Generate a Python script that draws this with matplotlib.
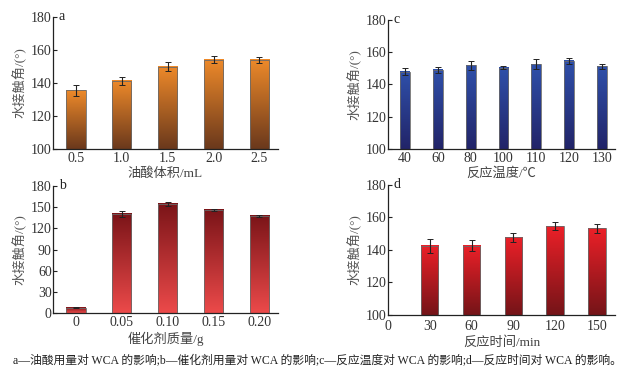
import matplotlib
matplotlib.use("Agg")
import matplotlib.pyplot as plt
import numpy as np
from matplotlib.colors import LinearSegmentedColormap

plt.rcParams['font.family'] = ['Liberation Serif', 'Noto Sans CJK SC']
plt.rcParams['axes.unicode_minus'] = False

# ---- data ----
a_cats = ["0.5", "1.0", "1.5", "2.0", "2.5"]
a_vals = [135.5, 141.3, 149.8, 154.2, 154.0]
a_err = [3.2, 2.3, 2.8, 1.9, 1.9]

b_cats = ["0", "0.05", "0.10", "0.15", "0.20"]
b_vals = [8.0, 140.0, 154.5, 145.5, 137.8]
b_err = [1.0, 4.5, 2.5, 1.5, 1.5]

c_cats = ["40", "60", "80", "100", "110", "120", "130"]
c_vals = [148.0, 149.0, 151.8, 150.5, 152.5, 154.6, 151.2]
c_err = [2.0, 1.7, 3.0, 1.2, 3.0, 2.0, 1.8]

d_x = [30, 60, 90, 120, 150]
d_vals = [142.5, 142.7, 147.8, 154.5, 153.3]
d_err = [4.3, 3.5, 2.8, 2.5, 3.0]
d_ticks = [0, 30, 60, 90, 120, 150]

ylabel = "水接触角/(°)"
caption = "a—油酸用量对 WCA 的影响;b—催化剂用量对 WCA 的影响;c—反应温度对 WCA 的影响;d—反应时间对 WCA 的影响。"

fig = plt.figure(figsize=(6.35, 3.75), dpi=100)
fig.patch.set_facecolor("white")

TXT = "#333333"

def grad_bars(ax, x, vals, err, width, top_col, bot_col, ylim):
    bars = ax.bar(x, vals, width=width, bottom=0, facecolor="none",
                  edgecolor="#6a6a6a", linewidth=0.6, zorder=3)
    cmap = LinearSegmentedColormap.from_list("g", [bot_col, top_col])
    grad = np.linspace(0, 1, 256).reshape(-1, 1)
    for r in bars:
        x0 = r.get_x(); w = r.get_width(); h = r.get_height()
        y0 = max(ylim[0], 0)
        ax.imshow(grad, extent=[x0, x0 + w, y0, h], origin="lower",
                  aspect="auto", cmap=cmap, zorder=2, interpolation="bicubic")
    ax.errorbar(x, vals, yerr=err, fmt="none", ecolor="#222222",
                elinewidth=0.8, capsize=2.0, capthick=0.7, zorder=4)
    return bars

def style(ax, ylim, yticks, letter, xlabel, xpad=2):
    ax.set_ylim(*ylim)
    ax.set_yticks(yticks)
    for s in ["top", "right"]:
        ax.spines[s].set_visible(False)
    for s in ["left", "bottom"]:
        ax.spines[s].set_linewidth(0.9)
        ax.spines[s].set_color("#222222")
    ax.tick_params(axis="y", direction="in", length=3, width=0.8,
                   labelsize=10, colors="#222222", labelcolor=TXT, pad=1)
    ax.tick_params(axis="x", direction="in", length=0, labelsize=10,
                   labelcolor=TXT, pad=xpad)
    ax.set_ylabel(ylabel, fontsize=9.5, color="#555555", labelpad=3)
    ax.set_xlabel(xlabel, fontsize=9.5, color="#444444", labelpad=2)
    ax.text(0.025, 1.0, letter, transform=ax.transAxes, fontsize=10,
            va="center", ha="left", color="#222222")

# a
axa = fig.add_axes([0.0835, 0.6027, 0.354, 0.352])
xa = np.arange(len(a_cats))
grad_bars(axa, xa, a_vals, a_err, 0.42, "#EE8A2A", "#6A381C", (100, 180))
axa.set_xticks(xa, a_cats)
axa.set_xlim(-0.5, 4.4)
style(axa, (100, 180), [100, 120, 140, 160, 180], "a", "油酸体积/mL")

# c
axc = fig.add_axes([0.611, 0.6027, 0.3575, 0.344])
xc = np.arange(len(c_cats))
grad_bars(axc, xc, c_vals, c_err, 0.3, "#2F50AA", "#222468", (100, 180))
axc.set_xticks(xc, c_cats)
axc.set_xlim(-0.52, 6.4)
style(axc, (100, 180), [100, 120, 140, 160, 180], "c", "反应温度/℃")

# b
axb = fig.add_axes([0.0835, 0.1645, 0.354, 0.340])
xb = np.arange(len(b_cats))
grad_bars(axb, xb, b_vals, b_err, 0.42, "#7A1418", "#EC4A4A", (0, 180))
axb.set_xticks(xb, b_cats)
axb.set_xlim(-0.5, 4.4)
style(axb, (0, 180), [0, 30, 60, 90, 120, 150, 180], "b", "催化剂质量/g")

# d
axd = fig.add_axes([0.611, 0.16, 0.3575, 0.3467])
grad_bars(axd, d_x, d_vals, d_err, 12.5, "#EC2028", "#741418", (100, 180))
axd.set_xticks(d_ticks)
axd.set_xlim(0, 163)
style(axd, (100, 180), [100, 120, 140, 160, 180], "d", "反应时间/min", xpad=3.5)

fig.text(0.5, 0.04, caption, ha="center", va="center", fontsize=8.5,
         color="#222222")

fig.savefig("out.png", dpi=100, facecolor="white")
